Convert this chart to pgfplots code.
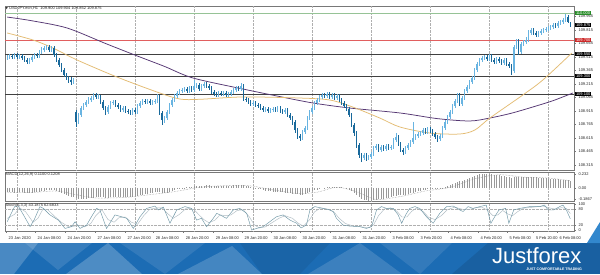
\documentclass[border=0pt]{standalone}
\usepackage{pgfplots}
\pgfplotsset{compat=1.18}
\usepackage{pgfplotstable}
\usepackage{fontspec}
\setmainfont{Liberation Sans}
\newfontfamily\dejavu{DejaVu Sans}
\definecolor{upc}{RGB}{105,180,225}
\definecolor{dnc}{RGB}{25,105,155}
\definecolor{mapurple}{RGB}{85,55,115}
\definecolor{mayellow}{RGB}{228,188,115}
\definecolor{bannerblue}{RGB}{28,108,180}
\definecolor{framec}{RGB}{120,120,120}
\definecolor{gridc}{RGB}{175,175,175}
\definecolor{boxgreen}{RGB}{40,140,40}
\definecolor{boxred}{RGB}{205,40,40}
\newcommand\mtfont{\fontsize{4}{4.5}\selectfont}

\pgfplotstableread{
i o h l c
0 109.504 109.537 109.482 109.515
1 109.515 109.548 109.493 109.526
2 109.526 109.548 109.493 109.515
3 109.515 109.559 109.493 109.537
4 109.537 109.559 109.493 109.515
5 109.515 109.548 109.493 109.526
6 109.526 109.548 109.482 109.504
7 109.504 109.526 109.459 109.482
8 109.482 109.504 109.437 109.459
9 109.459 109.504 109.437 109.482
10 109.482 109.537 109.459 109.515
11 109.515 109.559 109.493 109.537
12 109.537 109.559 109.504 109.526
13 109.526 109.593 109.504 109.571
14 109.571 109.626 109.548 109.593
15 109.593 109.637 109.571 109.615
16 109.615 109.648 109.593 109.626
17 109.626 109.648 109.571 109.593
18 109.593 109.637 109.571 109.615
19 109.615 109.637 109.515 109.537
20 109.537 109.559 109.459 109.482
21 109.482 109.504 109.404 109.426
22 109.426 109.448 109.348 109.371
23 109.371 109.393 109.293 109.315
24 109.315 109.337 109.259 109.282
25 109.282 109.304 109.226 109.259
26 109.259 109.293 109.204 109.237
27 109.237 109.282 109.215 109.259
28 108.904 108.926 108.737 108.793
29 108.793 108.893 108.771 108.871
30 108.871 108.971 108.848 108.948
31 108.948 109.004 108.926 108.982
32 108.982 109.037 108.959 109.015
33 109.015 109.071 108.993 109.037
34 109.037 109.082 109.015 109.059
35 109.059 109.115 109.037 109.093
36 109.093 109.115 109.048 109.071
37 109.071 109.104 109.048 109.082
38 109.082 109.093 108.993 109.015
39 109.015 109.037 108.926 108.948
40 108.948 108.971 108.871 108.904
41 108.904 108.982 108.882 108.959
42 108.959 109.026 108.937 109.004
43 109.004 109.037 108.982 109.015
44 109.015 109.037 108.959 108.982
45 108.982 109.004 108.937 108.959
46 108.959 108.982 108.904 108.926
47 108.926 108.971 108.904 108.948
48 108.948 108.971 108.893 108.915
49 108.915 108.937 108.882 108.904
50 108.904 108.926 108.871 108.893
51 108.893 108.948 108.871 108.926
52 108.926 108.948 108.882 108.904
53 108.904 108.993 108.882 108.971
54 108.971 109.026 108.948 109.004
55 109.004 109.048 108.982 109.026
56 109.026 109.048 108.993 109.015
57 109.015 109.048 108.993 109.026
58 109.026 109.048 108.982 109.004
59 109.004 109.037 108.982 109.015
60 109.015 109.048 108.993 109.026
61 109.026 109.104 109.004 109.071
62 109.071 109.093 108.871 108.893
63 108.893 108.915 108.759 108.815
64 108.815 108.859 108.782 108.837
65 108.837 108.926 108.815 108.904
66 108.904 109.004 108.882 108.982
67 108.982 109.059 108.959 109.037
68 109.037 109.104 109.015 109.082
69 109.082 109.137 109.059 109.115
70 109.115 109.159 109.093 109.137
71 109.137 109.171 109.115 109.148
72 109.148 109.182 109.126 109.159
73 109.159 109.182 109.115 109.137
74 109.137 109.193 109.115 109.171
75 109.171 109.193 109.126 109.148
76 109.148 109.259 109.126 109.193
77 109.193 109.226 109.171 109.204
78 109.204 109.226 109.137 109.159
79 109.159 109.215 109.137 109.193
80 109.193 109.237 109.171 109.215
81 109.215 109.237 109.171 109.193
82 109.193 109.215 109.148 109.171
83 109.171 109.193 109.104 109.126
84 109.126 109.148 109.082 109.104
85 109.104 109.126 109.071 109.093
86 109.093 109.137 109.071 109.115
87 109.115 109.137 109.082 109.104
88 109.104 109.137 109.082 109.115
89 109.115 109.137 109.071 109.093
90 109.093 109.126 109.071 109.104
91 109.104 109.148 109.082 109.126
92 109.126 109.171 109.104 109.148
93 109.148 109.193 109.126 109.171
94 109.171 109.193 109.137 109.159
95 109.159 109.226 109.137 109.193
96 109.193 109.215 109.026 109.048
97 109.048 109.071 109.015 109.037
98 109.037 109.059 108.993 109.015
99 109.015 109.037 108.971 108.993
100 108.993 109.026 108.971 109.004
101 109.004 109.026 108.959 108.982
102 108.982 109.004 108.948 108.971
103 108.971 108.993 108.926 108.948
104 108.948 108.971 108.904 108.926
105 108.926 108.959 108.904 108.937
106 108.937 108.959 108.893 108.915
107 108.915 108.948 108.893 108.926
108 108.926 108.959 108.904 108.937
109 108.937 108.959 108.904 108.926
110 108.926 108.971 108.904 108.948
111 108.948 108.971 108.893 108.915
112 108.915 108.937 108.882 108.904
113 108.904 108.948 108.882 108.926
114 108.926 108.948 108.848 108.871
115 108.871 108.893 108.815 108.837
116 108.837 108.859 108.759 108.793
117 108.793 108.815 108.671 108.704
118 108.704 108.726 108.604 108.637
119 108.637 108.659 108.582 108.615
120 108.615 108.704 108.593 108.682
121 108.682 108.748 108.659 108.726
122 108.726 108.859 108.704 108.837
123 108.837 108.926 108.815 108.904
124 108.904 108.971 108.882 108.948
125 108.948 109.026 108.926 109.004
126 109.004 109.059 108.982 109.037
127 109.037 109.093 109.015 109.071
128 109.071 109.115 109.048 109.093
129 109.093 109.115 109.059 109.082
130 109.082 109.126 109.059 109.104
131 109.104 109.126 109.048 109.071
132 109.071 109.115 109.048 109.093
133 109.093 109.115 109.037 109.059
134 109.059 109.104 109.037 109.082
135 109.082 109.104 109.015 109.037
136 109.037 109.059 108.982 109.004
137 109.004 109.026 108.948 108.971
138 108.971 108.993 108.915 108.937
139 108.937 108.959 108.848 108.871
140 108.871 108.893 108.737 108.759
141 108.759 108.782 108.637 108.671
142 108.671 108.693 108.504 108.537
143 108.537 108.559 108.393 108.426
144 108.426 108.448 108.348 108.393
145 108.393 108.448 108.371 108.426
146 108.426 108.448 108.359 108.393
147 108.393 108.426 108.371 108.404
148 108.404 108.459 108.382 108.437
149 108.437 108.526 108.415 108.504
150 108.504 108.548 108.482 108.526
151 108.526 108.548 108.459 108.482
152 108.482 108.537 108.459 108.515
153 108.515 108.537 108.471 108.493
154 108.493 108.548 108.471 108.526
155 108.526 108.548 108.482 108.504
156 108.504 108.537 108.482 108.515
157 108.515 108.615 108.493 108.593
158 108.593 108.671 108.571 108.626
159 108.626 108.648 108.526 108.548
160 108.548 108.571 108.459 108.482
161 108.482 108.504 108.426 108.459
162 108.459 108.526 108.437 108.504
163 108.504 108.559 108.482 108.537
164 108.537 108.593 108.515 108.571
165 108.571 108.793 108.548 108.615
166 108.615 108.659 108.593 108.637
167 108.637 108.682 108.615 108.659
168 108.659 108.693 108.637 108.671
169 108.671 108.726 108.648 108.704
170 108.704 108.726 108.659 108.682
171 108.682 108.737 108.659 108.715
172 108.715 108.737 108.671 108.693
173 108.693 108.715 108.637 108.659
174 108.659 108.682 108.604 108.626
175 108.626 108.648 108.571 108.604
176 108.604 108.659 108.582 108.637
177 108.637 108.748 108.615 108.726
178 108.726 108.815 108.704 108.793
179 108.793 108.871 108.771 108.848
180 108.848 108.926 108.826 108.904
181 108.904 108.993 108.882 108.971
182 108.971 109.048 108.948 109.026
183 109.026 109.115 109.004 109.093
184 109.093 109.115 108.971 108.993
185 108.993 109.082 108.971 109.059
186 109.059 109.159 109.037 109.137
187 109.137 109.204 109.115 109.182
188 109.182 109.259 109.159 109.237
189 109.237 109.304 109.215 109.282
190 109.282 109.393 109.259 109.371
191 109.371 109.459 109.348 109.437
192 109.437 109.504 109.415 109.482
193 109.482 109.526 109.459 109.504
194 109.504 109.537 109.482 109.515
195 109.515 109.537 109.471 109.493
196 109.493 109.548 109.471 109.526
197 109.526 109.548 109.459 109.482
198 109.482 109.504 109.437 109.459
199 109.459 109.515 109.437 109.493
200 109.493 109.515 109.448 109.471
201 109.471 109.493 109.426 109.448
202 109.448 109.504 109.426 109.482
203 109.482 109.504 109.415 109.437
204 109.437 109.459 109.393 109.415
205 109.415 109.437 109.315 109.359
206 109.359 109.648 109.337 109.626
207 109.626 109.715 109.604 109.693
208 109.693 109.715 109.537 109.571
209 109.571 109.682 109.548 109.659
210 109.659 109.704 109.637 109.682
211 109.682 109.737 109.659 109.704
212 109.704 109.815 109.682 109.782
213 109.782 109.837 109.759 109.815
214 109.815 109.837 109.759 109.782
215 109.782 109.804 109.737 109.759
216 109.759 109.804 109.737 109.782
217 109.782 109.826 109.759 109.804
218 109.804 109.837 109.782 109.815
219 109.815 109.848 109.793 109.826
220 109.826 109.859 109.804 109.837
221 109.837 109.871 109.815 109.848
222 109.848 109.893 109.826 109.871
223 109.871 109.893 109.837 109.859
224 109.859 109.915 109.837 109.893
225 109.893 109.926 109.871 109.904
226 109.904 109.948 109.882 109.926
227 109.926 109.993 109.904 109.959
228 109.959 109.982 109.893 109.900
229 109.900 109.904 109.852 109.875
}\candles

\pgfplotsset{
  mtpanel/.style={
    scale only axis, width=569pt, xmin=-0.9, xmax=230.5,
    axis line style={framec, line width=0.6pt},
    tick style={framec, line width=0.3pt},
    major tick length=1.6pt,
    tick align=outside,
    ytick pos=right, yticklabel pos=right,
    xtick pos=left,
    tick label style={font=\mtfont, text=black!85},
    yticklabel style={anchor=west, xshift=-0.6pt},
    /pgf/number format/assume math mode=true,
    scaled y ticks=false,
    xtick=\empty,
    extra x ticks={4,28,52,76,100,124,148,172,196,220},
    extra x tick labels={},
    extra x tick style={grid=major, major tick length=0pt},
    major grid style={gridc, densely dotted, line width=0.3pt},
    clip mode=individual,
  }
}

\begin{document}
\begin{tikzpicture}
\useasboundingbox (0pt,0pt) rectangle (600pt,274pt);
\fill[white] (0pt,0pt) rectangle (600pt,274pt);

% ---------- main price panel ----------
\begin{axis}[mtpanel, at={(5pt,104pt)}, anchor=south west, height=164pt,
  ymin=108.259, ymax=110.082,
  ytick={108.315,108.465,108.615,108.765,108.915,109.065,109.215,109.365,109.515,109.665,109.815,109.965},
  yticklabels={108.315,108.465,108.615,108.765,108.915,109.065,109.215,109.365,109.515,109.665,109.815,109.965}]
  % horizontal levels
  \addplot[color={rgb,255:red,150;green,195;blue,150}, line width=1.3pt, forget plot] coordinates {(-0.9,110.000) (230.5,110.000)};
  \addplot[color={rgb,255:red,225;green,95;blue,95}, line width=0.6pt, forget plot] coordinates {(-0.9,109.700) (230.5,109.700)};
  \addplot[color=black!75, line width=0.7pt, forget plot] coordinates {(-0.9,109.550) (230.5,109.550)};
  \addplot[color=black!75, line width=0.7pt, forget plot] coordinates {(-0.9,109.300) (230.5,109.300)};
  \addplot[color=black!75, line width=0.7pt, forget plot] coordinates {(-0.9,109.100) (230.5,109.100)};
  % moving averages
  \addplot[mapurple, line width=0.75pt, smooth, tension=0.5] coordinates {
   (0,109.959) (10,109.918) (24.4,109.837) (40,109.665) (51.9,109.537) (64,109.41) (75.5,109.282)
   (95.9,109.159) (110,109.08) (124.3,109.004) (139.3,108.948) (159.7,108.893) (175,108.83)
   (188.1,108.804) (196.3,108.837) (205,108.89) (213.7,108.959) (222,109.03) (230,109.115)};
  \addplot[mayellow, line width=0.75pt, smooth, tension=0.5] coordinates {
   (0,109.782) (10.5,109.704) (18.6,109.615) (28.4,109.482) (44.6,109.293) (60.9,109.126)
   (70.2,109.048) (78.4,109.045) (95.9,109.071) (119,109.059) (131.2,109.037) (140.5,108.959)
   (151.5,108.837) (159.7,108.737) (171.9,108.670) (184,108.659) (190.2,108.704) (196.3,108.837)
   (209.7,109.093) (217.8,109.259) (229.6,109.559)};
  % candles: wicks
  \addplot[draw=none, forget plot, restrict expr to domain={\thisrow{c}-\thisrow{o}}{0:10},
    error bars/.cd, y dir=both, y explicit, error mark=none,
    error bar style={draw=upc, line width=0.4pt}]
    table[x=i, y=o, y error plus expr=\thisrow{h}-\thisrow{o}, y error minus expr=\thisrow{o}-\thisrow{l}] {\candles};
  \addplot[draw=none, forget plot, restrict expr to domain={\thisrow{c}-\thisrow{o}}{-10:-0.0001},
    error bars/.cd, y dir=both, y explicit, error mark=none,
    error bar style={draw=dnc, line width=0.4pt}]
    table[x=i, y=o, y error plus expr=\thisrow{h}-\thisrow{o}, y error minus expr=\thisrow{o}-\thisrow{l}] {\candles};
  % candles: bodies
  \addplot[draw=none, forget plot, restrict expr to domain={\thisrow{c}-\thisrow{o}}{0:10},
    error bars/.cd, y dir=both, y explicit, error mark=none,
    error bar style={draw=upc, line width=1.3pt}]
    table[x=i, y=o, y error plus expr=\thisrow{c}-\thisrow{o}, y error minus expr=0] {\candles};
  \addplot[draw=none, forget plot, restrict expr to domain={\thisrow{c}-\thisrow{o}}{-10:-0.0001},
    error bars/.cd, y dir=both, y explicit, error mark=none,
    error bar style={draw=dnc, line width=1.3pt}]
    table[x=i, y=o, y error plus expr=0, y error minus expr=\thisrow{o}-\thisrow{c}] {\candles};
  \node[anchor=north west, font=\mtfont, inner sep=0.5pt, text=black!85] at (rel axis cs:0,1) {{\dejavu\fontsize{3}{3}\selectfont ▼}\ USDJPY.ecn,H1\ \ 109.900 109.904 109.852 109.875};
  \coordinate (lvG) at (axis cs:230.5,110.000);
  \coordinate (lvC) at (axis cs:230.5,109.875);
  \coordinate (lvR) at (axis cs:230.5,109.700);
  \coordinate (lvA) at (axis cs:230.5,109.550);
  \coordinate (lvB) at (axis cs:230.5,109.300);
  \coordinate (lvD) at (axis cs:230.5,109.100);
\end{axis}
\foreach \c/\col/\t in {lvG/boxgreen/110.000, lvC/black/109.875, lvR/boxred/109.700, lvA/black/109.550, lvB/black/109.300, lvD/black/109.100}{
  \node[anchor=west, fill=\col, text=white, font=\mtfont, inner sep=0.6pt, xshift=1.2pt] at (\c) {\t};
}

% ---------- MACD panel ----------
\begin{axis}[mtpanel, at={(5pt,73pt)}, anchor=south west, height=29pt,
  ymin=-0.2154, ymax=0.265,
  ytick={-0.1867,0,0.232}, yticklabels={-0.1867,0.00,0.232}]
  \addplot[ycomb, draw=black!40, line width=0.45pt] coordinates {
(0,-0.070) (1,-0.070) (2,-0.072) (3,-0.075) (4,-0.075) (5,-0.072) (6,-0.072) (7,-0.076) (8,-0.080) (9,-0.080)
(10,-0.076) (11,-0.070) (12,-0.065) (13,-0.058) (14,-0.050) (15,-0.042) (16,-0.036) (17,-0.034) (18,-0.030) (19,-0.038)
(20,-0.050) (21,-0.068) (22,-0.088) (23,-0.106) (24,-0.120) (25,-0.132) (26,-0.142) (27,-0.146) (28,-0.170) (29,-0.180)
(30,-0.182) (31,-0.180) (32,-0.176) (33,-0.170) (34,-0.165) (35,-0.160) (36,-0.156) (37,-0.152) (38,-0.152) (39,-0.156)
(40,-0.160) (41,-0.160) (42,-0.156) (43,-0.152) (44,-0.150) (45,-0.150) (46,-0.152) (47,-0.152) (48,-0.152) (49,-0.150)
(50,-0.150) (51,-0.146) (52,-0.140) (53,-0.130) (54,-0.120) (55,-0.110) (56,-0.100) (57,-0.092) (58,-0.086) (59,-0.080)
(60,-0.074) (61,-0.066) (62,-0.070) (63,-0.080) (64,-0.082) (65,-0.076) (66,-0.062) (67,-0.046) (68,-0.032) (69,-0.020)
(70,-0.010) (71,-0.002) (72,0.005) (73,0.010) (74,0.015) (75,0.020) (76,0.025) (77,0.030) (78,0.032) (79,0.036)
(80,0.040) (81,0.042) (82,0.042) (83,0.040) (84,0.038) (85,0.036) (86,0.036) (87,0.036) (88,0.036) (89,0.036)
(90,0.038) (91,0.040) (92,0.044) (93,0.050) (94,0.052) (95,0.056) (96,0.046) (97,0.036) (98,0.026) (99,0.016)
(100,0.006) (101,-0.004) (102,-0.014) (103,-0.024) (104,-0.034) (105,-0.042) (106,-0.050) (107,-0.056) (108,-0.060) (109,-0.064)
(110,-0.066) (111,-0.070) (112,-0.074) (113,-0.076) (114,-0.080) (115,-0.086) (116,-0.092) (117,-0.100) (118,-0.106) (119,-0.110)
(120,-0.108) (121,-0.100) (122,-0.088) (123,-0.072) (124,-0.056) (125,-0.040) (126,-0.026) (127,-0.012) (128,0.000) (129,0.008)
(130,0.014) (131,0.018) (132,0.020) (133,0.020) (134,0.020) (135,0.016) (136,0.010) (137,0.000) (138,-0.012) (139,-0.030)
(140,-0.056) (141,-0.084) (142,-0.118) (143,-0.152) (144,-0.180) (145,-0.196) (146,-0.206) (147,-0.210) (148,-0.210) (149,-0.204)
(150,-0.196) (151,-0.190) (152,-0.182) (153,-0.174) (154,-0.166) (155,-0.158) (156,-0.150) (157,-0.138) (158,-0.126) (159,-0.120)
(160,-0.118) (161,-0.116) (162,-0.110) (163,-0.100) (164,-0.090) (165,-0.078) (166,-0.066) (167,-0.056) (168,-0.046) (169,-0.036)
(170,-0.028) (171,-0.020) (172,-0.014) (173,-0.010) (174,-0.008) (175,-0.006) (176,-0.004) (177,0.004) (178,0.016) (179,0.030)
(180,0.046) (181,0.064) (182,0.082) (183,0.100) (184,0.110) (185,0.120) (186,0.134) (187,0.148) (188,0.164) (189,0.178)
(190,0.196) (191,0.212) (192,0.224) (193,0.232) (194,0.236) (195,0.236) (196,0.232) (197,0.226) (198,0.220) (199,0.214)
(200,0.208) (201,0.200) (202,0.194) (203,0.186) (204,0.178) (205,0.168) (206,0.176) (207,0.184) (208,0.180) (209,0.180)
(210,0.178) (211,0.176) (212,0.178) (213,0.180) (214,0.178) (215,0.174) (216,0.170) (217,0.166) (218,0.162) (219,0.158)
(220,0.154) (221,0.150) (222,0.148) (223,0.144) (224,0.142) (225,0.140) (226,0.138) (227,0.138) (228,0.130) (229,0.120)};
  \addplot[black!45, densely dotted, line width=0.5pt, smooth] coordinates {
   (0,-0.070) (10,-0.074) (20,-0.050) (28,-0.110) (36,-0.165) (48,-0.155) (58,-0.110) (68,-0.060)
   (78,0.010) (88,0.038) (98,0.040) (108,-0.030) (118,-0.090) (126,-0.070) (134,0.012) (142,-0.060)
   (150,-0.190) (160,-0.140) (170,-0.050) (180,0.010) (190,0.150) (200,0.220) (210,0.180) (220,0.165) (229,0.121)};
  \node[anchor=north west, font=\mtfont, inner sep=0.5pt, text=black!85] at (rel axis cs:0,1) {MACD(12,26,9) 0.1100 0.1208};
\end{axis}

% ---------- Stochastic panel ----------
\begin{axis}[mtpanel, at={(5pt,43pt)}, anchor=south west, height=28pt,
  ymin=-3.85, ymax=103.85, ytick={0,20,80,100}, yticklabels={0,20,80,100},
  xtick={-0.5,11.3,23.5,35.7,47.9,59.3,71.5,83.7,95.4,107.2,119,131.2,143.4,155.6,167,179.2,191.4,203.2,214,223.5},
  xticklabels={23 Jan 2020,24 Jan 08:00,24 Jan 20:00,27 Jan 08:00,27 Jan 20:00,28 Jan 08:00,28 Jan 20:00,29 Jan 08:00,29 Jan 20:00,30 Jan 08:00,30 Jan 20:00,31 Jan 08:00,31 Jan 20:00,3 Feb 08:00,3 Feb 20:00,4 Feb 08:00,4 Feb 20:00,5 Feb 08:00,5 Feb 20:00,6 Feb 08:00},
  xticklabel style={anchor=north west, xshift=-0.8pt, yshift=-0.3pt}]
  \addplot[gridc, densely dotted, line width=0.35pt, forget plot] coordinates {(-0.9,80) (230.5,80)};
  \addplot[gridc, densely dotted, line width=0.35pt, forget plot] coordinates {(-0.9,20) (230.5,20)};
  \addplot[color={rgb,255:red,175;green,188;blue,195}, line width=0.45pt] coordinates {
   (0,45) (3,60) (5,85) (7.5,70) (10.5,30) (12.5,45) (14.5,80) (16.5,78) (19,55) (22,30) (25,12) (27.5,15)
   (29.5,18) (31.5,12) (34,25) (36,55) (38.5,78) (41,40) (43.5,30) (45.5,48) (48,50) (50.5,30) (53,22) (55.5,55)
   (58,80) (61,85) (63,85) (65,65) (67.5,45) (70,60) (73,85) (76,78) (78,58) (80,40) (82,28) (84.5,38) (86.5,58)
   (89,55) (91,58) (93.5,75) (96,78) (98.5,50) (100.5,20) (102.5,8) (105,12) (108,30) (110.5,45) (113,55) (116,45)
   (118.5,25) (120.5,15) (123,40) (125,70) (127.5,85) (130.5,80) (133,68) (135,45) (137.5,25) (140.5,16) (144,12)
   (147,9) (149,20) (151,55) (153.5,82) (156,85) (158.5,72) (160.5,50) (162.5,50) (164.5,72) (166.5,85) (169,72)
   (171.5,48) (174,40) (176.5,55) (179,78) (182,88) (185,80) (187.5,78) (190,85) (193,88) (195.5,75) (197.5,55)
   (199.5,58) (201.5,75) (203.5,62) (205.5,55) (207.5,70) (210,84) (214,88) (218,92) (220.5,85) (223,80) (225.5,86)
   (227.5,82) (229,63)};
  \addplot[color={rgb,255:red,110;green,150;blue,165}, line width=0.45pt] coordinates {
   (0,32) (3,90) (4.5,92) (6.5,60) (9.3,13) (11,40) (13.3,90) (14.7,83) (17.4,58) (20.8,38) (23.5,6) (26.2,13)
   (27.6,32) (29.6,6) (32.3,19) (34.5,55) (36.4,83) (37.7,77) (40.4,6) (43.8,58) (46.5,51) (48.6,45) (51.3,6)
   (54,51) (56.7,83) (60.1,92) (61.4,77) (63.5,88) (66.2,26) (68.9,77) (72.3,90) (75,83) (77,38) (79,45) (81.1,13)
   (83.8,45) (85.2,64) (86.5,58) (89.2,45) (91.9,77) (94.6,83) (97.4,64) (99.4,0) (101.4,6) (104.1,13) (106.8,32)
   (109.5,51) (112.2,58) (115,38) (117.7,26) (119.5,8) (121.7,19) (123.1,77) (125.1,90) (128.5,83) (131.2,77)
   (132.6,71) (133.9,45) (136.6,19) (139.3,15) (143.4,13) (146.1,6) (148.2,13) (150.2,77) (152.2,90) (154.3,83)
   (157,83) (159,58) (160.4,26) (162.4,64) (163.7,83) (165.8,90) (167.8,83) (170.5,51) (173.2,26) (175.9,64)
   (178.7,90) (181.4,92) (184.1,77) (185.4,71) (187.4,90) (189.5,83) (192.2,90) (194.8,96) (196.7,26) (198.7,58)
   (200,77) (202.7,83) (204,26) (206,77) (208.4,83) (212.5,90) (216.6,90) (218.5,96) (220,77) (222.2,77)
   (224.7,90) (226,96) (227.4,77) (229,43)};
  \node[anchor=north west, font=\mtfont, inner sep=0.5pt, text=black!85] at (rel axis cs:0,1) {Stoch(5,3,3) 43.1875 62.6833};
\end{axis}

% ---------- banner ----------
\fill[bannerblue] (0pt,0pt) rectangle (600pt,31pt);
\fill[color={rgb,255:red,50;green,135;blue,205}] (587pt,31pt) -- (600pt,52pt) -- (600pt,31pt) -- cycle;
\fill[white, opacity=0.20] (0pt,31pt) -- (38pt,31pt) -- (14pt,0pt) -- (0pt,0pt) -- cycle;
\fill[white, opacity=0.12] (25pt,31pt) -- (92pt,31pt) -- (58pt,4pt) -- cycle;
\fill[white, opacity=0.22] (66pt,0pt) -- (108pt,31pt) -- (142pt,0pt) -- cycle;
\fill[white, opacity=0.10] (120pt,31pt) -- (205pt,31pt) -- (165pt,0pt) -- cycle;
\fill[white, opacity=0.18] (178pt,0pt) -- (232pt,28pt) -- (262pt,0pt) -- cycle;
\fill[black, opacity=0.07] (240pt,31pt) -- (330pt,31pt) -- (300pt,0pt) -- (262pt,0pt) -- cycle;
\fill[white, opacity=0.14] (308pt,0pt) -- (360pt,31pt) -- (402pt,0pt) -- cycle;
\fill[white, opacity=0.10] (380pt,31pt) -- (452pt,31pt) -- (420pt,0pt) -- cycle;
\fill[black, opacity=0.10] (452pt,0pt) -- (488pt,31pt) -- (600pt,31pt) -- (600pt,0pt) -- cycle;
\node[anchor=base west, text=white, inner sep=0pt, font=\fontsize{22}{22}\selectfont] at (492pt,11pt) {Justforex};
\node[anchor=base east, text=white, inner sep=0pt, font=\fontsize{3.6}{3.6}\selectfont\bfseries] at (582pt,3.5pt) {JUST COMFORTABLE TRADING};
\end{tikzpicture}
\end{document}
